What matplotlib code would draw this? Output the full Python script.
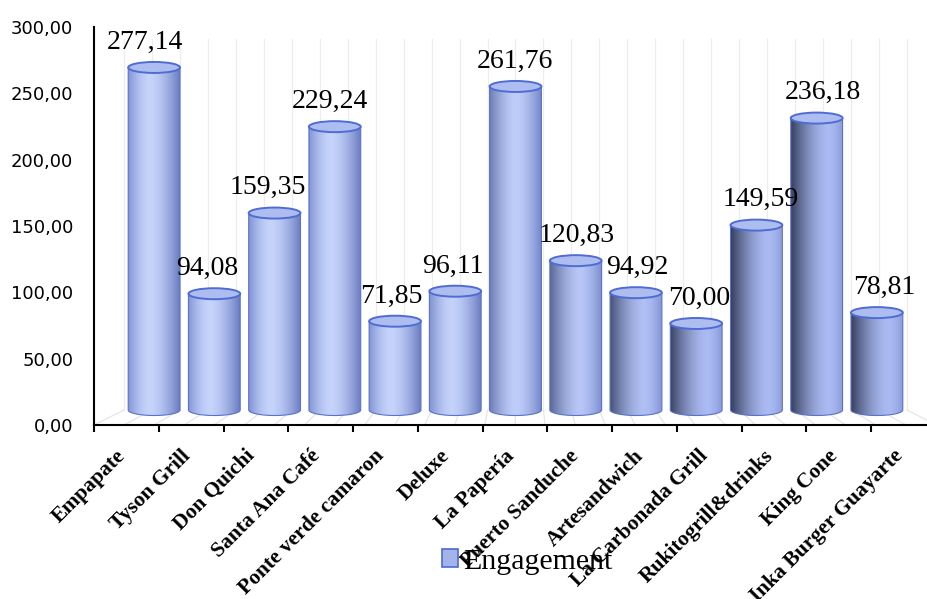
import numpy as np
import matplotlib
matplotlib.use("Agg")
import matplotlib.pyplot as plt
from matplotlib.patches import Ellipse, PathPatch, Patch
from matplotlib.path import Path
from matplotlib.transforms import ScaledTranslation
from matplotlib.colors import to_rgb

categories = ["Empapate", "Tyson Grill", "Don Quichi", "Santa Ana Café",
              "Ponte verde camaron", "Deluxe", "La Papería", "Puerto Sanduche",
              "Artesandwich", "La Carbonada Grill", "Rukitogrill&drinks",
              "King Cone", "Inka Burger Guayarte"]
values = [277.14, 94.08, 159.35, 229.24, 71.85, 96.11, 261.76, 120.83,
          94.92, 70.00, 149.59, 236.18, 78.81]
yticks = [0, 50, 100, 150, 200, 250, 300]
series_name = "Engagement"

W, H = 928, 599
fig = plt.figure(figsize=(W / 100, H / 100), dpi=100)


def rect(l, t, r, b):
    return [l / W, 1 - b / H, (r - l) / W, (b - t) / H]


# ---- decoration: back wall / floor faint grid ----
deco = fig.add_axes([0, 0, 1, 1], zorder=0)
deco.set_xlim(0, W)
deco.set_ylim(H, 0)
deco.axis("off")
bl, br, bt, bb = 124, 907, 39.2, 410
fl, fr, fb = 94, 936, 425
for xb in np.linspace(bl, br, 29):
    deco.plot([xb, xb], [bt, bb], color="#ededed", lw=0.9, zorder=0)
    xf = fl + (xb - bl) * (fr - fl) / (br - bl)
    deco.plot([xb, xf], [bb, fb], color="#e6e6e6", lw=0.9, zorder=0)

# ---- front axes (axis lines, ticks, labels) ----
axf = fig.add_axes(rect(94, 27, 936, 425), zorder=1)
axf.set_facecolor("none")
axf.set_xlim(-0.5, len(categories) - 0.5)
axf.set_ylim(0, 300)
for s in ["top", "right"]:
    axf.spines[s].set_visible(False)
axf.spines["left"].set_linewidth(1.5)
axf.spines["bottom"].set_linewidth(1.5)
axf.set_yticks(yticks)
axf.set_yticklabels([f"{v:.2f}".replace(".", ",") for v in yticks],
                    fontsize=13, family="DejaVu Sans")
axf.tick_params(axis="y", length=0, pad=15)
axf.set_xticks(np.arange(-0.5, len(categories), 1.0))
axf.set_xticklabels([])
axf.tick_params(axis="x", length=5, width=1.5, direction="out")

off = ScaledTranslation(-4 / 100, -28 / 100, fig.dpi_scale_trans)
for i, c in enumerate(categories):
    axf.text(i, 0, c, transform=axf.transData + off, rotation=45,
             ha="right", va="center", rotation_mode="anchor",
             fontsize=15.5, fontweight="bold", family="Liberation Serif",
             clip_on=False)

# ---- back axes (cylinders) ----
axb = fig.add_axes(rect(bl, bt, br, 410 + 12 * 1.236), zorder=2)
axb.set_facecolor("none")
axb.axis("off")

w = 0.86
ey = 5.5 / 1.236
N = 64
tt = np.linspace(0, 1, N)


def lerp(a, b, s):
    a, b = np.array(to_rgb(a)), np.array(to_rgb(b))
    return a + (b - a) * s


def smooth(x, a, b):
    x = np.clip((x - a) / (b - a), 0, 1)
    return x * x * (3 - 2 * x)


n = len(categories)
for i, v in enumerate(values):
    s = i / (n - 1)
    d = smooth(s, 0.35, 0.8)
    h = 0.42 + 0.3 * d
    Lc = lerp("#8395d6", "#384160", d)
    Rc = lerp("#6b7dc2", "#8c9cdc", d)
    Hc = lerp("#c6d4fb", "#aabaf2", d)
    img = np.zeros((1, N, 3))
    for k, t in enumerate(tt):
        if t < h:
            f = ((h - t) / h) ** 1.6
            img[0, k] = Hc + (Lc - Hc) * f
        else:
            f = ((t - h) / (1 - h)) ** 1.6
            img[0, k] = Hc + (Rc - Hc) * f
    x0, x1 = i - w / 2, i + w / 2
    th = np.linspace(np.pi, 2 * np.pi, 40)
    verts = [(x0, v), (x0, 0)]
    verts += list(zip(i + (w / 2) * np.cos(th), ey * np.sin(th)))
    verts += [(x1, 0), (x1, v), (x0, v)]
    path = Path(verts)
    clip = PathPatch(path, transform=axb.transData, facecolor="none",
                     edgecolor="none")
    axb.add_patch(clip)
    im = axb.imshow(img, extent=[x0, x1, -ey - 1, v], aspect="auto",
                    interpolation="bilinear", zorder=3)
    im.set_clip_path(clip)
    axb.add_patch(PathPatch(Path([(x0, v), (x0, 0)] + verts[2:-2] + [(x1, 0), (x1, v)]),
                            facecolor="none", edgecolor="#5a72c8", lw=0.8,
                            zorder=4))
    axb.add_patch(Ellipse((i, v), w, 2 * ey, facecolor="#aebdf0",
                          edgecolor="#4f6cd4", lw=1.4, zorder=5))
    dx = (-9 + 1.35 * i) / 100 * 72
    axb.annotate(f"{v:.2f}".replace(".", ","), (i, v), xytext=(dx, 13.5),
                 textcoords="offset points", ha="center", va="baseline",
                 fontsize=20, family="Liberation Serif", zorder=6)

axb.set_xlim(-0.5, n - 0.5)
axb.set_ylim(-12, 300)

fig.legend(handles=[Patch(facecolor="#a4b4ea", edgecolor="#4d6ad0", lw=1.2)],
           labels=[series_name], loc="center",
           bbox_to_anchor=(527 / W, 1 - 562 / H), frameon=False,
           prop={"family": "Liberation Serif", "size": 21.5},
           handlelength=0.55, handleheight=0.55, handletextpad=0.15)

fig.savefig("out.png", dpi=100)
